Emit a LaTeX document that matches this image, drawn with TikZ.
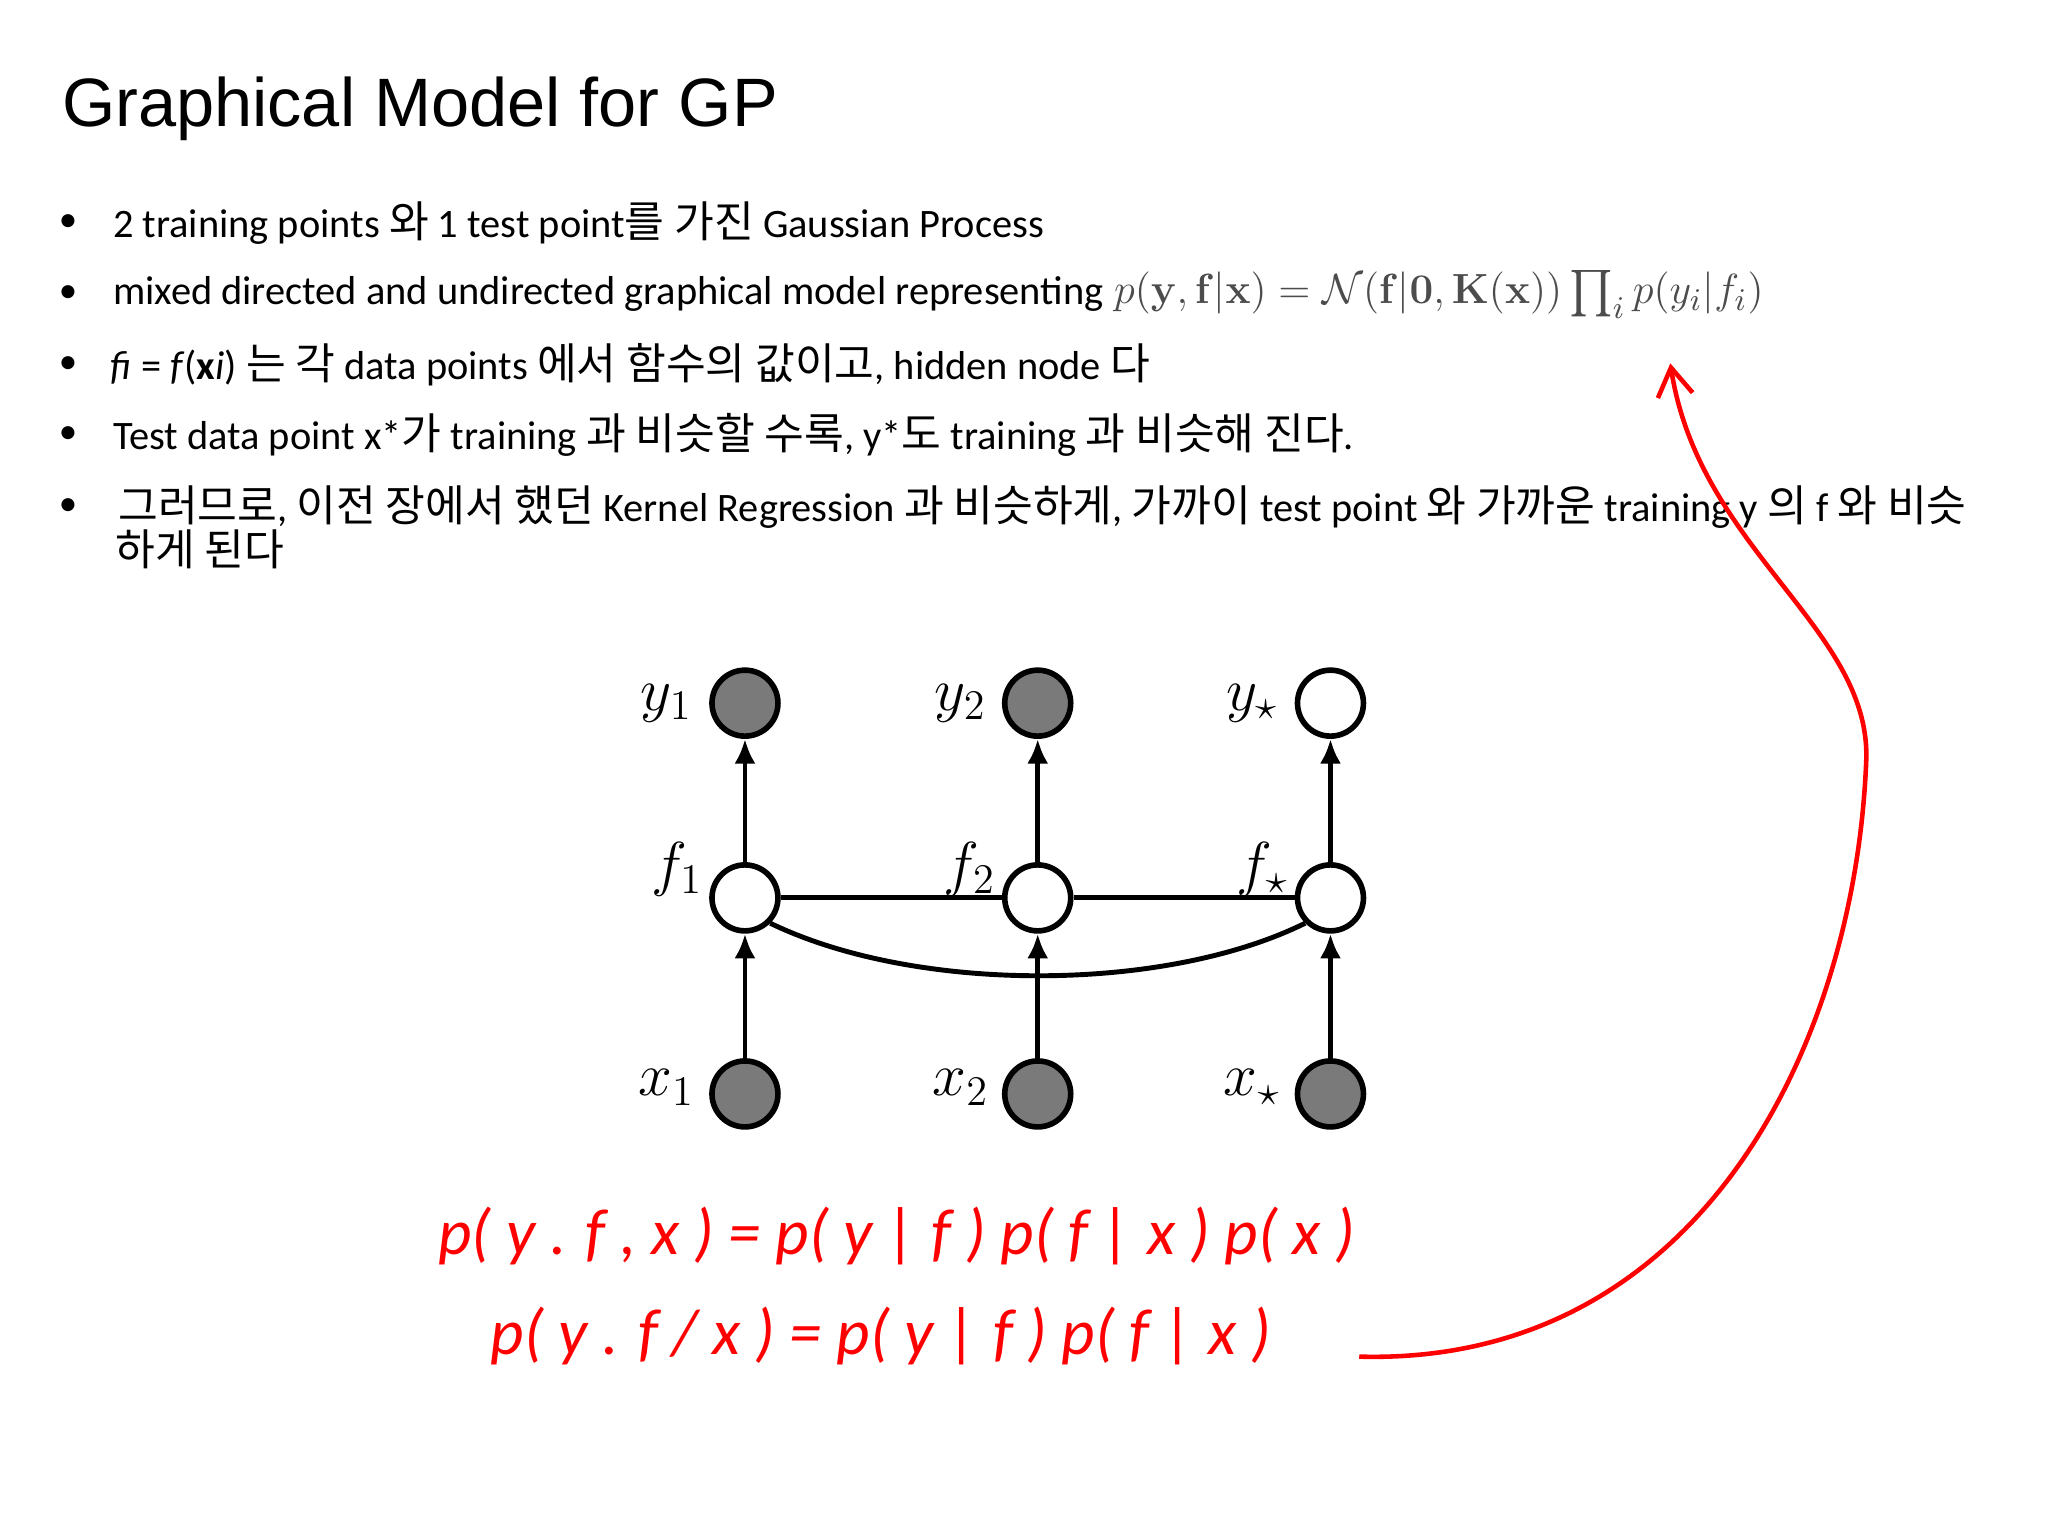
\documentclass[tikz,border=0pt]{standalone}
\usepackage{amsmath,amssymb}
\usepackage[no-math]{fontspec}
\setmainfont{Carlito}
\newfontfamily\titlefont{Liberation Sans}
\newfontfamily\kr[Scale=1.07]{Noto Sans CJK KR}
\newcommand{\K}[1]{{\kr #1}}
\usetikzlibrary{arrows.meta}
\begin{document}
\begin{tikzpicture}[x=0.01307cm,y=-0.01307cm,
  btxt/.style={anchor=west,font=\fontsize{11.5pt}{14pt}\selectfont,inner sep=0},
  bul/.style={anchor=center,font=\fontsize{10.5pt}{13pt}\selectfont,inner sep=0},
  gnode/.style={circle,draw=black,line width=1.6pt,minimum size=0.66cm,inner sep=0},
  obs/.style={gnode,fill=gray!70!black!80},
  lab/.style={font=\fontsize{17pt}{17pt}\selectfont,inner sep=0},
  arr/.style={-{Latex[length=7pt,width=6pt]},line width=1.4pt},
  und/.style={line width=1.4pt},
  hand/.style={text=red,font=\itshape\fontsize{18.5pt}{22pt}\selectfont,inner sep=0,anchor=west}]
\useasboundingbox (0,0) rectangle (1567,1175);
\node[anchor=west,inner sep=0,font=\titlefont\fontsize{19.5pt}{24pt}\selectfont] (title) at (47,83) {Graphical Model for GP};
\foreach \yy/\n in {171/a,225/b,279/c,333/d,388/e}{\node[bul] (b\n) at (52,\yy) {•};}
\node[btxt] (l1) at (86,171) {2 training points \K{와} 1 test point\K{를 가진} Gaussian Process};
\node[btxt] (l2) at (86,225) {mixed directed and undirected graphical model representing};
\node[anchor=west,inner sep=0,text=black!70,font=\fontsize{13.2pt}{16pt}\selectfont] (formula) at (852,225) {$p(\mathbf{y},\mathbf{f}|\mathbf{x}) = \mathcal{N}(\mathbf{f}|\mathbf{0},\mathbf{K}(\mathbf{x}))\prod_i p(y_i|f_i)$};
\node[btxt] (l3) at (84,279) {\textit{fi} = \textit{f}(\textbf{x}\textit{i}) \K{는 각} data points \K{에서 함수의 값이고}, hidden node \K{다}};
\node[btxt] (l4) at (86,333) {Test data point x*\K{가} training \K{과 비슷할 수록}, y*\K{도} training \K{과 비슷해 진다}.};
\node[btxt] (l5) at (90,388) {\K{그러므로}, \K{이전 장에서 했던} Kernel Regression \K{과 비슷하게}, \K{가까이} test point \K{와 가까운} training y \K{의} f \K{와 비슷}};
\node[btxt] (l6) at (88,420) {\K{하게 된다}};
% graph
\node[obs] (y1) at (570,538) {};
\node[obs] (y2) at (794,538) {};
\node[gnode] (ys) at (1018,538) {};
\node[gnode] (f1) at (570,687) {};
\node[gnode] (f2) at (794,687) {};
\node[gnode] (fs) at (1018,687) {};
\node[obs] (x1) at (570,837) {};
\node[obs] (x2) at (794,837) {};
\node[obs] (xs) at (1018,837) {};
\node[lab] (ly1) at (510,538) {$y_1$};
\node[lab] (ly2) at (735,538) {$y_2$};
\node[lab] (lys) at (958,538) {$y_\star$};
\node[lab] (lf1) at (518,665) {$f_1$};
\node[lab] (lf2) at (742,665) {$f_2$};
\node[lab] (lfs) at (966,665) {$f_\star$};
\node[lab] (lx1) at (510,832) {$x_1$};
\node[lab] (lx2) at (735,832) {$x_2$};
\node[lab] (lxs) at (958,832) {$x_\star$};
\foreach \a/\b in {x1/f1,x2/f2,xs/fs,f1/y1,f2/y2,fs/ys}{\draw[arr] (\a) -- (\b);}
\draw[und] (f1) -- (f2);
\draw[und] (f2) -- (fs);
\draw[und] (f1.south east) .. controls (700,760) and (890,760) .. (fs.south west);
% handwriting
\node[hand] (h1) at (335,946) {p( y . f , x ) = p( y | f ) p( f | x ) p( x )};
\node[hand] (h2) at (375,1022) {p( y . f / x ) = p( y | f ) p( f | x )};
\coordinate (s) at (1040,1038);
\coordinate (m) at (1428,580);
\coordinate (e) at (1278,278);
\draw[red,line width=1.3pt,-{Straight Barb[length=8pt,width=10pt]}] (s) .. controls (1300,1045) and (1420,800) .. (m) .. controls (1430,480) and (1300,420) .. (e);
\end{tikzpicture}
\end{document}
